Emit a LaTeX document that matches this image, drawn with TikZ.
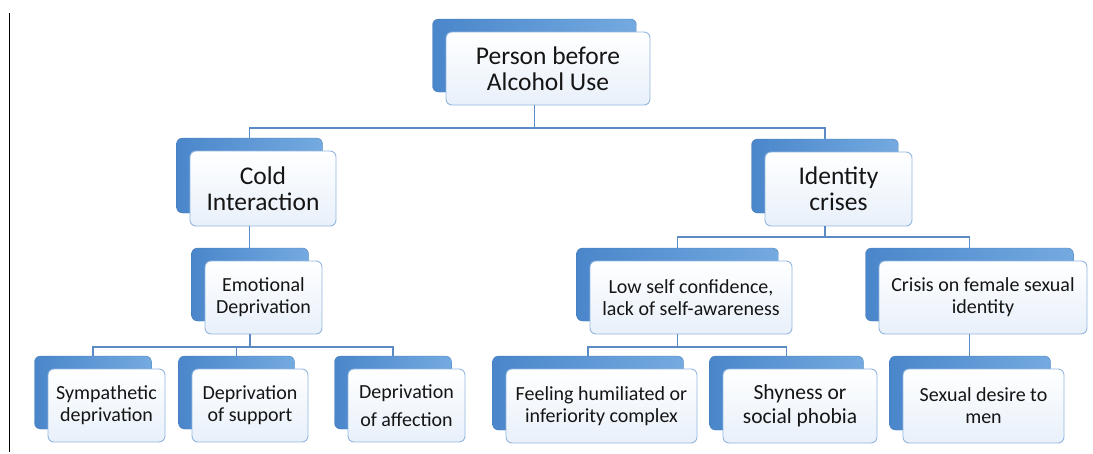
\documentclass[tikz,border=0pt]{standalone}
\usepackage{fontspec}
\setmainfont{Carlito}
\usetikzlibrary{calc}

\definecolor{linkblue}{HTML}{5A8BC5}
\definecolor{backtop}{HTML}{74AAE0}
\definecolor{backbot}{HTML}{4A86CA}
\definecolor{frontedge}{HTML}{93B7E0}
\definecolor{frontbot}{HTML}{E8F0FA}
\definecolor{ink}{HTML}{151515}

\tikzset{
  backbox/.style={rounded corners=6pt, inner sep=0pt, outer sep=0pt,
    left color=backbot, right color=backtop, draw=backbot!90!black, line width=0.3pt},
  frontbox/.style={rounded corners=6pt, inner sep=0pt, outer sep=0pt,
    draw=frontedge, line width=0.9pt, top color=white, bottom color=frontbot,
    align=center, text=ink},
  conn/.style={draw=linkblue, line width=1.3pt},
  bigtext/.style={font=\fontsize{25.5}{26}\selectfont},
  midtext/.style={font=\fontsize{20}{22}\selectfont},
  widetext/.style={font=\fontsize{20}{28}\selectfont},
  boldish/.style={font=\fontsize{21.5}{24}\selectfont},
}

% #1 name, #2 x1, #3 y1, #4 x2, #5 y2 (front box), #6 text style, #7 text
\newcommand\pairbox[7]{%
  \node[backbox, minimum width={(#4-#2)*1pt}, minimum height={(#5-#3)*1pt}]
    (#1b) at ({(#2+#4)/2-13.5},{(#3+#5)/2-13}) {};
  \node[frontbox, #6, minimum width={(#4-#2)*1pt}, minimum height={(#5-#3)*1pt}]
    (#1) at ({(#2+#4)/2},{(#3+#5)/2}) {#7};
}

\begin{document}
\begin{tikzpicture}[x=1pt, y=-1pt]
  \useasboundingbox (0,0) rectangle (1093,453);
  \fill[white] (0,0) rectangle (1093,453);

  % left margin rule
  \draw[black, line width=0.9pt] (9,13) -- (9,452);

  % boxes
  \pairbox{top}{446}{32}{650}{105}{bigtext}{Person before\\Alcohol Use}
  \pairbox{cold}{190}{151}{336}{226}{bigtext}{Cold\\Interaction}
  \pairbox{ident}{765}{152}{912}{226}{bigtext}{Identity\\crises}
  \pairbox{emo}{205}{261}{322}{334}{midtext}{Emotional\\Deprivation}
  \pairbox{low}{590}{261}{792}{334}{midtext}{Low self confidence,\\lack of self-awareness}
  \pairbox{crisis}{879}{261}{1087}{334}{midtext}{Crisis on female sexual\\identity}
  \pairbox{symp}{48}{369}{165}{442}{midtext}{Sympathetic\\deprivation}
  \pairbox{supp}{192}{369}{308}{442}{midtext}{Deprivation\\of support}
  \pairbox{affect}{348}{369}{465}{442}{widetext}{Deprivation\\of affection}
  \pairbox{feel}{506}{369}{697}{443}{midtext}{Feeling humiliated or\\inferiority complex}
  \pairbox{shy}{723}{369}{877}{443}{boldish}{Shyness or\\social phobia}
  \pairbox{desire}{903}{369}{1064}{443}{midtext}{Sexual desire to\\men}

  % connectors
  \draw[conn] (topb.center |- top.south) -- (topb.center |- 0,128) -| (coldb.north);
  \draw[conn] (topb.center |- 0,128) -| (identb.north);

  \draw[conn] (coldb.center |- cold.south) -- (coldb.center |- emob.north);

  \draw[conn] (emob.center |- emo.south) -- (emob.center |- 0,347) -| (sympb.north);
  \draw[conn] (emob.center |- 0,347) -| (suppb.north);
  \draw[conn] (emob.center |- 0,347) -| (affectb.north);

  \draw[conn] (identb.center |- ident.south) -- (identb.center |- 0,237) -| (lowb.north);
  \draw[conn] (identb.center |- 0,237) -| (crisisb.north);

  \draw[conn] (lowb.center |- low.south) -- (lowb.center |- 0,347) -| (feelb.north);
  \draw[conn] (lowb.center |- 0,347) -| (shyb.north);

  \draw[conn] (crisisb.center |- crisis.south) -- (crisisb.center |- desireb.north);
\end{tikzpicture}
\end{document}
